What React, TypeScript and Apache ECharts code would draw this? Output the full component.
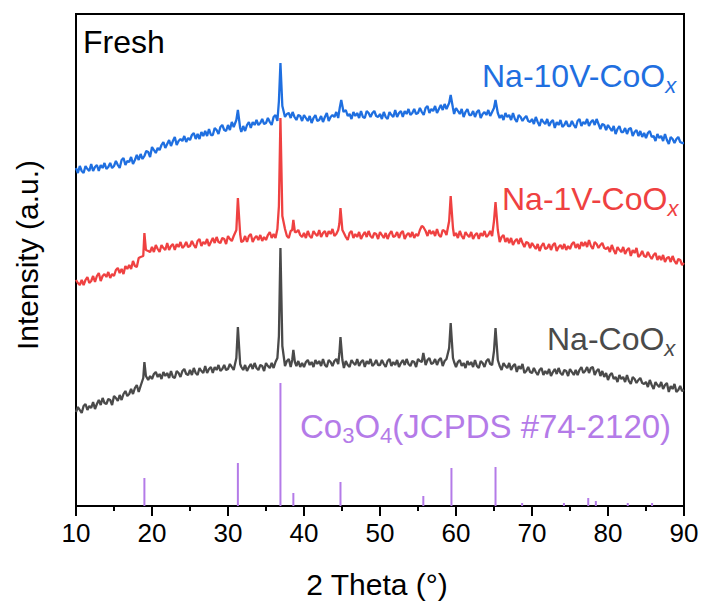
import React, { useEffect, useRef } from "react";
import * as echarts from "echarts";

// 2θ scan grid: start and step (degrees); values below are heights
const X_START = 10;
const X_STEP = 0.25;

// Na-10V-CoOx (blue) samples, 10° → 90° every 0.25° (one row = 5°)
const BLUE_Y = [
  338, 333, 340, 335, 333, 340, 337, 335, 342, 335, 339, 341, 335, 341, 338, 343, 337, 339, 343, 338,
  340, 345, 341, 338, 346, 348, 341, 345, 344, 349, 342, 346, 351, 346, 352, 347, 350, 355, 354, 349,
  359, 356, 353, 358, 356, 361, 364, 358, 362, 366, 360, 365, 369, 361, 365, 367, 365, 370, 364, 368,
  366, 371, 373, 367, 372, 367, 374, 370, 375, 370, 377, 371, 371, 378, 376, 372, 379, 381, 376, 375,
  381, 376, 384, 379, 380, 390, 380, 374, 380, 375, 381, 384, 378, 384, 381, 386, 381, 383, 387, 382,
  383, 388, 384, 381, 389, 391, 385, 400, 400, 400, 389, 392, 393, 388, 394, 389, 386, 391, 390, 385,
  391, 388, 385, 390, 383, 388, 391, 385, 386, 390, 384, 389, 393, 385, 389, 391, 389, 394, 388, 400,
  400, 400, 396, 390, 392, 387, 394, 390, 393, 388, 395, 389, 388, 395, 393, 389, 393, 395, 390, 389,
  392, 387, 394, 389, 387, 394, 391, 389, 396, 389, 393, 395, 389, 395, 392, 397, 391, 393, 397, 392,
  393, 398, 394, 391, 398, 400, 393, 397, 395, 400, 393, 397, 401, 396, 402, 397, 400, 400, 400, 392,
  398, 395, 392, 397, 389, 394, 397, 391, 391, 395, 389, 394, 396, 388, 392, 394, 391, 396, 390, 394,
  400, 400, 400, 388, 391, 386, 393, 389, 391, 386, 393, 387, 384, 391, 389, 385, 388, 390, 385, 384,
  387, 382, 389, 384, 380, 387, 384, 382, 387, 380, 384, 386, 378, 384, 381, 386, 379, 381, 385, 380,
  380, 385, 381, 378, 385, 387, 380, 384, 382, 387, 380, 384, 386, 381, 387, 382, 377, 382, 381, 376,
  381, 378, 375, 380, 372, 377, 380, 374, 374, 378, 372, 377, 378, 370, 374, 376, 370, 375, 369, 373,
  368, 373, 375, 369, 370, 365, 372, 368, 370, 365, 372, 366, 362, 369, 367, 363, 367, 369, 364, 363,
  363,
];
const BLUE_PEAKS: [number, number][] = [
  [31.1, 386], [31.3, 396], [31.6, 378],
  [36.7, 405], [36.9, 443], [37.15, 400],
  [44.7, 398], [44.9, 406], [45.2, 394],
  [59.1, 403], [59.3, 411], [59.6, 398],
  [65.0, 398], [65.2, 406], [65.5, 393],
];

// Na-1V-CoOx (red)
const RED_Y = [
  226, 223, 221, 226, 221, 226, 229, 223, 225, 230, 224, 230, 233, 225, 230, 232, 229, 234, 228, 232,
  230, 236, 238, 233, 237, 232, 240, 237, 241, 237, 245, 240, 239, 248, 249, 250, 250, 250, 255, 254,
  259, 254, 261, 257, 254, 261, 258, 256, 263, 256, 260, 262, 256, 262, 259, 264, 258, 260, 264, 259,
  260, 265, 261, 258, 265, 267, 260, 264, 262, 267, 260, 264, 268, 263, 269, 264, 263, 268, 267, 262,
  270, 267, 265, 270, 270, 270, 270, 264, 265, 270, 264, 270, 272, 264, 268, 270, 266, 271, 265, 269,
  266, 271, 274, 268, 272, 268, 277, 280, 280, 280, 277, 270, 268, 275, 280, 280, 274, 276, 271, 269,
  273, 268, 275, 270, 268, 275, 272, 270, 276, 269, 273, 275, 269, 275, 272, 277, 270, 272, 276, 280,
  280, 273, 269, 266, 273, 275, 268, 272, 269, 274, 267, 271, 274, 269, 275, 270, 268, 273, 272, 267,
  274, 271, 268, 273, 267, 272, 275, 269, 270, 274, 268, 273, 275, 267, 271, 273, 269, 274, 268, 272,
  270, 276, 280, 280, 275, 270, 276, 272, 275, 270, 277, 271, 269, 276, 275, 271, 280, 280, 280, 270,
  273, 268, 275, 270, 267, 274, 271, 269, 274, 267, 271, 273, 267, 273, 270, 275, 269, 271, 275, 270,
  280, 280, 280, 264, 269, 271, 264, 268, 263, 268, 261, 265, 267, 262, 268, 263, 259, 264, 263, 258,
  263, 260, 257, 262, 255, 260, 263, 257, 258, 262, 256, 261, 263, 255, 259, 261, 257, 262, 256, 260,
  257, 262, 264, 258, 262, 257, 264, 260, 264, 259, 266, 260, 257, 264, 262, 258, 261, 263, 258, 257,
  259, 254, 261, 256, 252, 259, 256, 254, 259, 252, 256, 258, 250, 256, 253, 258, 249, 251, 255, 250,
  249, 254, 250, 247, 251, 253, 246, 250, 246, 251, 244, 248, 249, 244, 250, 245, 242, 247, 246, 241,
  243,
];
const RED_PEAKS: [number, number][] = [
  [18.85, 250], [19.0, 273], [19.2, 256],
  [31.1, 276], [31.3, 308], [31.6, 272],
  [36.7, 300], [36.9, 388], [37.15, 290],
  [38.45, 276], [38.6, 286], [38.8, 274],
  [44.65, 282], [44.8, 298], [45.05, 276],
  [55.7, 279],
  [59.1, 285], [59.3, 310], [59.6, 278],
  [65.0, 285], [65.2, 304], [65.5, 276],
];

// Na-CoOx (grey)
const GREY_Y = [
  94, 99, 96, 93, 100, 102, 96, 100, 98, 104, 97, 102, 106, 101, 108, 103, 102, 107, 106, 101,
  110, 108, 105, 111, 106, 112, 115, 110, 112, 117, 112, 118, 121, 114, 120, 125, 125, 125, 126, 130,
  127, 132, 134, 129, 132, 127, 134, 130, 133, 128, 135, 129, 128, 135, 133, 129, 135, 137, 132, 131,
  136, 131, 138, 133, 131, 138, 135, 133, 140, 133, 137, 139, 133, 139, 136, 141, 135, 137, 141, 136,
  137, 142, 139, 136, 140, 140, 140, 139, 136, 141, 135, 139, 142, 137, 143, 138, 136, 141, 140, 135,
  143, 140, 138, 143, 138, 144, 148, 150, 150, 150, 140, 145, 147, 139, 150, 150, 140, 145, 139, 143,
  139, 144, 146, 141, 144, 139, 146, 142, 145, 140, 147, 141, 139, 146, 144, 140, 145, 147, 142, 150,
  150, 138, 145, 141, 139, 146, 143, 141, 147, 140, 144, 146, 139, 145, 142, 147, 140, 142, 146, 141,
  141, 146, 142, 139, 145, 147, 140, 144, 141, 146, 139, 143, 146, 141, 147, 142, 140, 145, 144, 139,
  147, 145, 144, 150, 141, 146, 148, 142, 143, 147, 141, 146, 148, 140, 145, 147, 150, 150, 150, 144,
  139, 144, 146, 140, 143, 138, 145, 141, 144, 139, 146, 140, 138, 145, 143, 139, 145, 147, 142, 141,
  150, 150, 150, 140, 136, 143, 140, 138, 143, 136, 140, 142, 134, 140, 137, 142, 133, 135, 139, 134,
  133, 138, 134, 131, 136, 138, 131, 135, 132, 137, 130, 134, 137, 132, 138, 133, 131, 136, 135, 130,
  137, 134, 131, 136, 131, 136, 139, 133, 135, 139, 133, 138, 139, 131, 135, 137, 130, 135, 129, 133,
  126, 131, 133, 127, 129, 124, 131, 127, 129, 124, 131, 125, 122, 129, 127, 123, 126, 128, 123, 122,
  124, 119, 126, 121, 117, 124, 121, 119, 124, 117, 121, 123, 114, 120, 117, 122, 114, 116, 120, 115,
  116,
];
const GREY_PEAKS: [number, number][] = [
  [18.85, 128], [19.0, 144], [19.2, 130],
  [31.1, 148], [31.3, 179], [31.6, 142],
  [36.7, 170], [36.9, 258], [37.15, 160],
  [38.45, 146], [38.6, 156], [38.8, 144],
  [44.65, 152], [44.8, 169], [45.05, 146],
  [55.7, 153],
  [59.1, 158], [59.3, 183], [59.6, 148],
  [65.0, 155], [65.2, 178], [65.5, 146],
];

// Co3O4 reference pattern (JCPDS #74-2120): position, stick height
const REF_POS = [19.0, 31.3, 36.9, 38.6, 44.8, 55.7, 59.4, 65.2, 68.7, 74.2, 77.4, 78.4, 82.6, 85.8];
const REF_H = [28, 43, 123, 13, 24, 10, 38, 39, 3, 3, 8, 5, 3, 3];

const X_TICKS = [10, 20, 30, 40, 50, 60, 70, 80, 90];

const FONT = "'Liberation Sans', Arial, Helvetica, sans-serif";
const BLUE = "#1f6fe0";
const RED = "#ef4141";
const GREY = "#4a4a4a";
const PURPLE = "#b47be8";

function build(grid: number[], peaks: [number, number][]) {
  const pts: [number, number][] = [];
  grid.forEach((y, i) => {
    const x = X_START + i * X_STEP;
    if (!peaks.some((p) => Math.abs(p[0] - x) < 0.12)) pts.push([x, y]);
  });
  peaks.forEach((p) => pts.push([p[0], p[1]]));
  pts.sort((a, b) => a[0] - b[0]);
  return pts;
}

function label(text: string, x: number, y: number, color: string, size = 32, italicSub = true) {
  return {
    type: "text",
    x,
    y,
    silent: true,
    style: {
      text,
      fill: color,
      verticalAlign: "top",
      rich: {
        m: { fontSize: size, fontFamily: FONT, lineHeight: 40, fill: color },
        s: {
          fontSize: 22,
          fontFamily: FONT,
          fontStyle: italicSub ? "italic" : "normal",
          lineHeight: 18,
          verticalAlign: "bottom",
          fill: color,
        },
      },
    },
  };
}

export default function App() {
  const ref = useRef<HTMLDivElement>(null);
  useEffect(() => {
    document.body.style.margin = "0";
    const chart = echarts.init(ref.current!, undefined, { renderer: "svg" });
    const lineSeries = (name: string, data: [number, number][], color: string) => ({
      name,
      type: "line",
      data,
      showSymbol: false,
      symbol: "none",
      lineStyle: { color, width: 2.3 },
      itemStyle: { color },
      z: 3,
    });
    chart.setOption({
      animation: false,
      backgroundColor: "#fff",
      grid: {
        left: 76,
        top: 14,
        width: 608,
        height: 492,
        show: true,
        borderColor: "#000",
        borderWidth: 2,
        backgroundColor: "transparent",
      },
      xAxis: {
        type: "value",
        min: X_TICKS[0],
        max: X_TICKS[X_TICKS.length - 1],
        interval: 10,
        axisLine: { show: true, onZero: false, lineStyle: { color: "#000", width: 2 } },
        axisTick: { show: true, inside: false, length: 10, lineStyle: { color: "#000", width: 2 } },
        minorTick: { show: true, splitNumber: 2, length: 5, lineStyle: { color: "#000", width: 2 } },
        splitLine: { show: false },
        axisLabel: { fontSize: 26, color: "#000", fontFamily: FONT, margin: 14 },
      },
      yAxis: {
        type: "value",
        min: 0,
        max: 492,
        axisLine: { show: false },
        axisTick: { show: false },
        axisLabel: { show: false },
        splitLine: { show: false },
      },
      series: [
        {
          name: "Co3O4",
          type: "bar",
          data: REF_POS.map((x, i) => [x, REF_H[i]]),
          barWidth: 2,
          itemStyle: { color: PURPLE },
          z: 2,
        },
        lineSeries("Na-CoOx", build(GREY_Y, GREY_PEAKS), GREY),
        lineSeries("Na-1V-CoOx", build(RED_Y, RED_PEAKS), RED),
        lineSeries("Na-10V-CoOx", build(BLUE_Y, BLUE_PEAKS), BLUE),
      ],
      graphic: [
        {
          type: "text",
          x: 83,
          y: 42,
          style: { text: "Fresh", fontSize: 32, fontFamily: FONT, fill: "#000", verticalAlign: "middle" },
        },
        label("{m|Na-10V-CoO}{s|x}", 482, 56, BLUE),
        label("{m|Na-1V-CoO}{s|x}", 502, 179, RED),
        label("{m|Na-CoO}{s|x}", 547, 319, GREY),
        label("{m|Co}{s|3}{m|O}{s|4}{m|(JCPDS #74-2120)}", 300, 406, PURPLE, 33, false),
        {
          type: "text",
          x: 377,
          y: 584,
          style: {
            text: "2 Theta (°)",
            fontSize: 30,
            fontFamily: FONT,
            fill: "#000",
            align: "center",
            verticalAlign: "middle",
          },
        },
        {
          type: "text",
          x: 27,
          y: 255,
          rotation: Math.PI / 2,
          style: {
            text: "Intensity (a.u.)",
            fontSize: 30,
            fontFamily: FONT,
            fill: "#000",
            align: "center",
            verticalAlign: "middle",
          },
        },
      ],
    });
    return () => chart.dispose();
  }, []);
  return (
    <div
      ref={ref}
      style={{ position: "fixed", left: 0, top: 0, width: 703, height: 603, background: "#fff" }}
    />
  );
}
